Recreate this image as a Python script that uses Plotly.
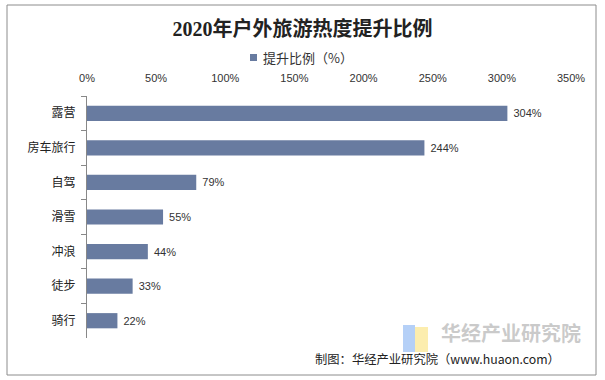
import plotly.graph_objects as go

categories = ["露营", "房车旅行", "自驾", "滑雪", "冲浪", "徒步", "骑行"]
values = [304, 244, 79, 55, 44, 33, 22]
x_ticks = [0, 50, 100, 150, 200, 250, 300, 350]
x_tick_labels = [f"{v}%" for v in x_ticks]
series_name = "提升比例（%）"

W, H = 605, 380
L, R, T, B = 87, 571, 96, 338

def px(x):
    return (x - L) / (R - L)

def py(y):
    return (B - y) / (B - T)

FONT = "Liberation Sans, Noto Sans CJK SC, sans-serif"
BAR = "#687BA0"

fig = go.Figure()
fig.add_trace(go.Bar(
    y=categories, x=values, orientation="h",
    name=series_name,
    marker=dict(color=BAR, line=dict(width=0)),
    text=[f"\u00a0{v}%" for v in values], textposition="outside",
    textfont=dict(size=11, color="#333333", family=FONT),
    cliponaxis=False,
    showlegend=False,
))

fig.update_layout(
    width=W, height=H,
    margin=dict(l=L, r=W - R, t=T, b=H - B, pad=0, autoexpand=False),
    paper_bgcolor="white", plot_bgcolor="white",
    bargap=0.56,
    font=dict(family=FONT, size=11, color="#333333"),
    title=dict(text="<b>2020年户外旅游热度提升比例</b>", x=0.5, xanchor="center",
               y=1 - 29 / H, yanchor="middle",
               font=dict(family="Liberation Serif, Noto Sans CJK SC, serif", size=20, color="#222222")),
    xaxis=dict(side="top", range=[0, 350], tickvals=x_ticks, ticktext=x_tick_labels,
               showgrid=False, zeroline=False, showline=False,
               ticks="outside", ticklen=9, tickcolor="rgba(0,0,0,0)", automargin=False,
               tickfont=dict(size=11, color="#333333"), fixedrange=True),
    yaxis=dict(autorange="reversed", type="category", showgrid=False, zeroline=False,
               showline=True, linecolor="#888888", linewidth=1, automargin=False,
               ticks="outside", tickson="boundaries", ticklen=5, tickcolor="#888888",
               tickfont=dict(size=12, color="#222222", family="Noto Sans CJK SC, sans-serif"),
               ticksuffix="   ", fixedrange=True),
)

# legend (drawn manually: small square + text)
fig.add_shape(type="rect", xref="paper", yref="paper",
              x0=px(250), x1=px(257), y0=py(61), y1=py(54),
              line=dict(width=0), fillcolor=BAR)
fig.add_annotation(xref="paper", yref="paper", x=px(261), y=py(57.5), xanchor="left", yanchor="middle",
                   text=series_name, showarrow=False,
                   font=dict(size=13, color="#333333", family="Noto Sans CJK SC, sans-serif"))

# outer border
fig.add_shape(type="rect", xref="paper", yref="paper",
              x0=px(7), x1=px(596), y0=py(375), y1=py(5),
              line=dict(color="#8c8c8c", width=1), fillcolor="rgba(0,0,0,0)", layer="below")

# watermark logo
fig.add_shape(type="rect", xref="paper", yref="paper",
              x0=px(403), x1=px(415), y0=py(352), y1=py(325),
              line=dict(width=0), fillcolor="rgba(120,170,240,0.55)", layer="below")
fig.add_shape(type="rect", xref="paper", yref="paper",
              x0=px(415), x1=px(428), y0=py(352), y1=py(327),
              line=dict(width=0), fillcolor="rgba(250,225,120,0.6)", layer="below")
fig.add_annotation(xref="paper", yref="paper", x=px(511), y=py(332), xanchor="center", yanchor="middle",
                   text="<b>华经产业研究院</b>", showarrow=False,
                   font=dict(size=20, color="rgba(150,150,150,0.5)", family="Noto Sans CJK SC"))

# source
fig.add_annotation(xref="paper", yref="paper", x=px(313), y=py(359), xanchor="left", yanchor="middle",
                   text="制图：华经产业研究院（www.huaon.com）", showarrow=False,
                   font=dict(size=12.3, color="#222222", family="Noto Sans CJK SC, sans-serif"))

fig.write_html("out.html", config={"displayModeBar": False},
               post_script="document.body.style.margin='0';document.body.style.overflow='hidden';")
